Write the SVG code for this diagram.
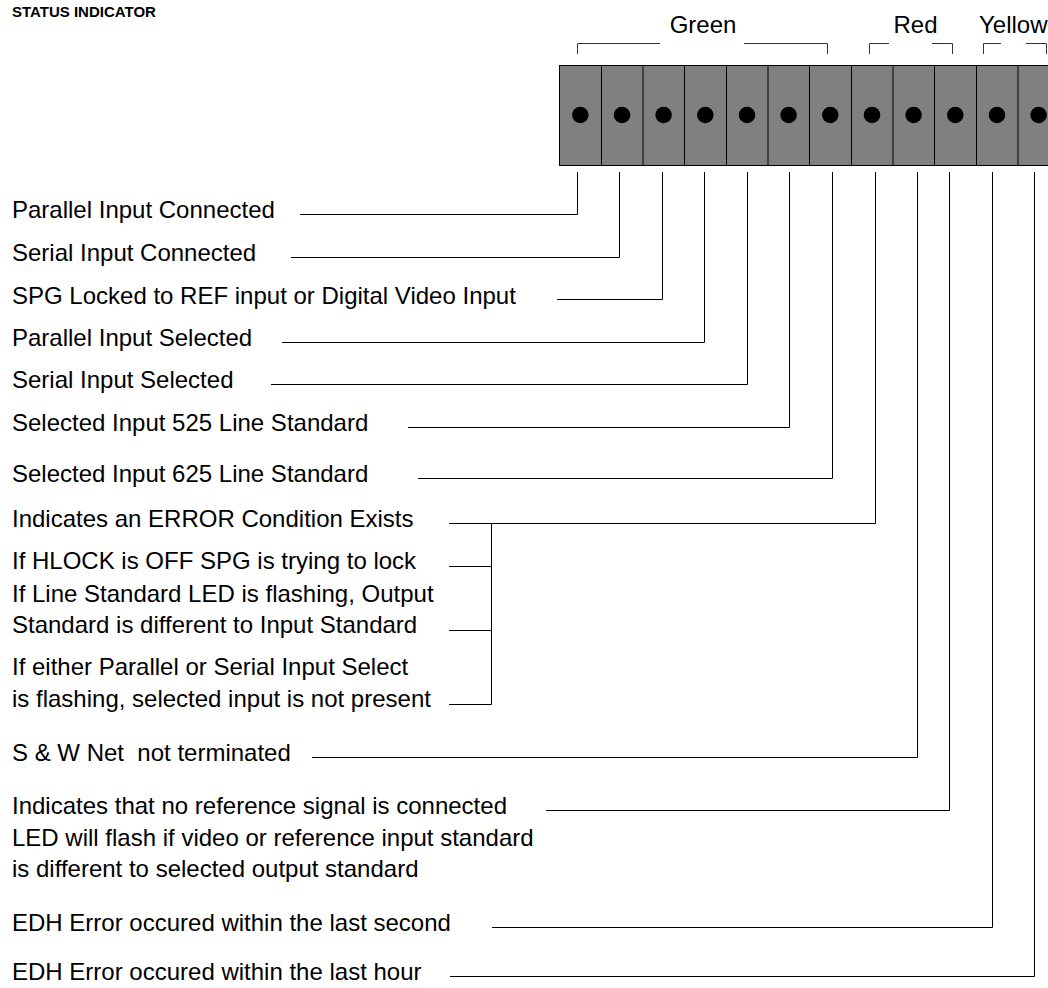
<svg xmlns="http://www.w3.org/2000/svg" width="1048" height="988" viewBox="0 0 1048 988">
<style>
  text { font-family: "Liberation Sans", Arial, Helvetica, sans-serif; font-size: 24px; fill: #000; }
  .title { font-weight: bold; font-size: 15px; }
  .cell { fill: #808080; stroke: #000; stroke-width: 1; }
  .div { stroke: #000; stroke-width: 1; }
  .dot { fill: #000; }
  .conn { fill: none; stroke: #000; stroke-width: 1; }
  .brk { fill: none; stroke: #333; stroke-width: 1; }
</style>
<rect width="1048" height="988" fill="#fff"/>
<text class="title" x="12" y="17">STATUS INDICATOR</text>

<g id="colour-groups">
  <text x="703" y="33" text-anchor="middle">Green</text>
  <text x="915.5" y="33" text-anchor="middle">Red</text>
  <text x="979" y="33">Yellow</text>
  <path class="brk" d="M577.5,54 V43.5 H660 M744,43.5 H827.5 V54"/>
  <path class="brk" d="M869.5,54 V43.5 H889 M932,43.5 H952.5 V54"/>
  <path class="brk" d="M983.5,54 V43.5 H1001 M1026,43.5 H1046.5 V54"/>
</g>

<g id="led-panel">
  <rect class="cell" x="559.5" y="65.5" width="500" height="100"/>
  <path class="div" d="M601.5,65.5 V165.5 M643,65.5 V165.5 M684.5,65.5 V165.5 M726.5,65.5 V165.5 M768,65.5 V165.5 M809.5,65.5 V165.5 M851.5,65.5 V165.5 M893,65.5 V165.5 M934.5,65.5 V165.5 M976.5,65.5 V165.5 M1018,65.5 V165.5"/>
  <circle class="dot" cx="580.3" cy="115" r="8.3"/>
  <circle class="dot" cx="622" cy="115" r="8.3"/>
  <circle class="dot" cx="663.6" cy="115" r="8.3"/>
  <circle class="dot" cx="705.3" cy="115" r="8.3"/>
  <circle class="dot" cx="747" cy="115" r="8.3"/>
  <circle class="dot" cx="788.6" cy="115" r="8.3"/>
  <circle class="dot" cx="830.3" cy="115" r="8.3"/>
  <circle class="dot" cx="872" cy="115" r="8.3"/>
  <circle class="dot" cx="913.6" cy="115" r="8.3"/>
  <circle class="dot" cx="955.3" cy="115" r="8.3"/>
  <circle class="dot" cx="997" cy="115" r="8.3"/>
  <circle class="dot" cx="1038.6" cy="115" r="8.3"/>
</g>

<g id="connectors">
  <path class="conn" d="M300,214.5 H577.5 V172"/>
  <path class="conn" d="M291,257.5 H619.5 V172"/>
  <path class="conn" d="M557,299.5 H662.5 V172"/>
  <path class="conn" d="M282,342.5 H704.5 V172"/>
  <path class="conn" d="M271,384.5 H747.5 V172"/>
  <path class="conn" d="M408,427.5 H789.5 V172"/>
  <path class="conn" d="M418,478.5 H832.5 V172"/>
  <path class="conn" d="M449,523.5 H875.5 V172"/>
  <path class="conn" d="M449,566.5 H491.5 M449,630.5 H491.5 M449,704.5 H491.5 V523.5"/>
  <path class="conn" d="M312,757.5 H917.5 V172"/>
  <path class="conn" d="M546,810.5 H949.5 V172"/>
  <path class="conn" d="M492,927.5 H992.5 V172"/>
  <path class="conn" d="M450,976.5 H1034.5 V172"/>
</g>

<g id="label-parallel-connected"><text x="12" y="218">Parallel Input Connected</text></g>
<g id="label-serial-connected"><text x="12" y="261">Serial Input Connected</text></g>
<g id="label-spg-locked"><text x="12" y="303.5">SPG Locked to REF input or Digital Video Input</text></g>
<g id="label-parallel-selected"><text x="12" y="346">Parallel Input Selected</text></g>
<g id="label-serial-selected"><text x="12" y="388">Serial Input Selected</text></g>
<g id="label-525"><text x="12" y="431">Selected Input 525 Line Standard</text></g>
<g id="label-625"><text x="12" y="482">Selected Input 625 Line Standard</text></g>
<g id="label-error"><text x="12" y="527">Indicates an ERROR Condition Exists</text></g>
<g id="label-hlock"><text x="12" y="569">If HLOCK is OFF SPG is trying to lock</text></g>
<g id="label-line-std"><text x="12" y="602">If Line Standard LED is flashing, Output</text><text x="12" y="632.5">Standard is different to Input Standard</text></g>
<g id="label-input-select"><text x="12" y="675">If either Parallel or Serial Input Select</text><text x="12" y="707">is flashing, selected input is not present</text></g>
<g id="label-sw-net"><text x="12" y="761" xml:space="preserve">S &amp; W Net  not terminated</text></g>
<g id="label-no-ref"><text x="12" y="814">Indicates that no reference signal is connected</text><text x="12" y="846">LED will flash if video or reference input standard</text><text x="12" y="877">is different to selected output standard</text></g>
<g id="label-edh-second"><text x="12" y="931">EDH Error occured within the last second</text></g>
<g id="label-edh-hour"><text x="12" y="980">EDH Error occured within the last hour</text></g>
</svg>
